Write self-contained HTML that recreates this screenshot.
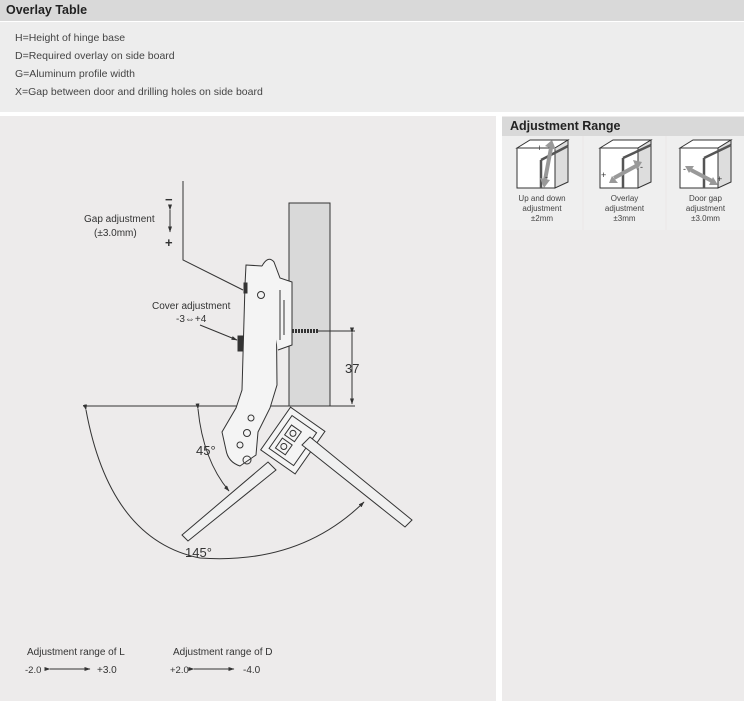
<!DOCTYPE html>
<html><head><meta charset="utf-8"><style>
body{margin:0;width:744px;height:701px;background:#fff;font-family:"Liberation Sans",sans-serif;position:relative;overflow:hidden}
.hdr{position:absolute;left:0;top:0;width:744px;height:21px;background:#d9d9d9;font-size:12.5px;font-weight:bold;color:#222;line-height:21px;padding-left:6px;box-sizing:border-box}
.top{position:absolute;left:0;top:22px;width:744px;height:90px;background:#ededed;font-size:10.5px;color:#444}
.top div{position:absolute;left:15px}
.lp{position:absolute;left:0;top:116px;width:496px;height:585px;background:#edebeb}
.rp{position:absolute;left:502px;top:116px;width:242px;height:585px;background:#edebeb}
.rh{position:absolute;left:0;top:1px;width:242px;height:19px;background:#d9d9d9;font-size:12.5px;font-weight:bold;color:#222;line-height:19px;padding-left:8px;box-sizing:border-box}
.cell{position:absolute;top:20px;height:94px;background:#efefef;font-size:8px;color:#444;text-align:center;line-height:10px}
.cell .t{position:absolute;left:0;right:0;top:58px}
</style></head><body>
<div class="hdr">Overlay Table</div>
<div class="top">
<div style="top:10px">H=Height of hinge base</div>
<div style="top:28px">D=Required overlay on side board</div>
<div style="top:46px">G=Aluminum profile width</div>
<div style="top:64px">X=Gap between door and drilling holes on side board</div>
</div>
<div class="lp"></div>
<div class="rp"><div class="rh">Adjustment Range</div>
<div class="cell" style="left:0;width:80px"><div class="t">Up and down<br>adjustment<br>±2mm</div></div>
<div class="cell" style="left:82px;width:81px"><div class="t">Overlay<br>adjustment<br>±3mm</div></div>
<div class="cell" style="left:165px;width:77px"><div class="t">Door gap<br>adjustment<br>±3.0mm</div></div>
</div>
<svg width="744" height="701" style="position:absolute;left:0;top:0" font-family="Liberation Sans, sans-serif">
<defs><marker id="a" markerWidth="6" markerHeight="4" refX="5.5" refY="2" orient="auto"><path d="M0,0 L6,2 L0,4z" fill="#333"/></marker></defs>
<g fill="none" stroke="#333" stroke-width="1">
<g fill="#fff">
<path d="M517,148 L530,140 L568,140 L555,148Z"/><path d="M517,148 L555,148 L555,188 L517,188Z"/><path d="M555,148 L568,140 L568,182 L555,188Z" fill="#ddd"/>
<path d="M600,148 L613,140 L651,140 L638,148Z"/><path d="M600,148 L638,148 L638,188 L600,188Z"/><path d="M638,148 L651,140 L651,182 L638,188Z" fill="#ddd"/>
<path d="M680,148 L693,140 L731,140 L718,148Z"/><path d="M680,148 L718,148 L718,188 L680,188Z"/><path d="M718,148 L731,140 L731,182 L718,188Z" fill="#ddd"/>
</g>
<path d="M541,160 L568,146 M541,160 L541,188 M623,158 L651,145 M623,158 L623,188 M704,158 L731,145 M704,158 L704,188" stroke="#555" stroke-width="2.5"/>
</g>
<g stroke="#999" stroke-width="4" fill="none">
<path d="M551,148 L545,180"/><path d="M614,178 L636,166"/><path d="M691,170 L712,181"/>
</g>
<g fill="#999"><path d="M545,146 L556,150 L552,140Z"/><path d="M540,178 L550,180 L544,188Z"/>
<path d="M609,183 L618,183 L612,176Z"/><path d="M642,162 L633,160 L637,170Z"/><path d="M685,166 L694,166 L689,173Z"/><path d="M718,185 L713,177 L709,185Z"/></g>
<g font-size="9" fill="#333"><text x="537" y="151">+</text><text x="545" y="180">-</text><text x="601" y="178">+</text><text x="640" y="170">-</text><text x="683" y="172">-</text><text x="717" y="182">+</text></g>

<g fill="none" stroke="#333" stroke-width="1">
<rect x="289" y="203" width="41" height="203" fill="#d9d9d9"/>
<path d="M83,406 H355"/>
<path d="M318,331 H355"/>
<path d="M352,333 V404" marker-start="url(#a)" marker-end="url(#a)"/>
<path d="M183,181 V260 L243,290"/>
<path d="M200,325 L237,340" marker-end="url(#a)"/>
<path d="M246,265 L262,266 Q272,272 276,282 L277,385 L270,408 L258,432 L256,455 L240,466 Q228,462 226,450 L222,432 L236,408 L242,390 L245,285Z" fill="#f4f4f4"/>
<path d="M262,266 Q268,255 274,262 L280,278 L292,282 L292,345 L278,350" fill="#f4f4f4"/>
<path d="M280,290 V340 M284,300 V335"/>
<rect x="238" y="336" width="5" height="15" fill="#333"/>
<rect x="244" y="283" width="3" height="10" fill="#333"/>
<path d="M292,331 H318" stroke-width="4" stroke-dasharray="2,1"/>
<circle cx="261" cy="295" r="3.5"/>
<circle cx="251" cy="418" r="3"/><circle cx="247" cy="433" r="3.5"/><circle cx="240" cy="445" r="3"/><circle cx="247" cy="460" r="4"/>
<g transform="rotate(35 292 440)" fill="#f4f4f4">
<rect x="272" y="414" width="42" height="52"/>
<rect x="278" y="420" width="30" height="40"/>
<rect x="283" y="428" width="12" height="12"/><rect x="283" y="444" width="12" height="12"/>
<circle cx="289" cy="434" r="3"/><circle cx="289" cy="450" r="3"/>
</g>
<path d="M182,535 L268,462 L276,470 L188,541Z" fill="#f0f0f0"/>
<path d="M310,437 L412,520 L405,527 L302,445Z" fill="#f0f0f0"/>
<path d="M198,409 Q203,460 229,491" marker-start="url(#a)" marker-end="url(#a)"/>
<path d="M86,410 Q110,540 200,558 Q300,565 364,502" marker-start="url(#a)" marker-end="url(#a)"/>
<path d="M170,210 V232" marker-start="url(#a)" marker-end="url(#a)"/>
<path d="M50,669 H90" marker-start="url(#a)" marker-end="url(#a)"/>
<path d="M194,669 H234" marker-start="url(#a)" marker-end="url(#a)"/>
</g>
<g fill="#333" font-size="10">
<text x="84" y="222">Gap adjustment</text><text x="94" y="236">(±3.0mm)</text>
<text x="165" y="204" font-weight="bold" font-size="13">−</text><text x="165" y="247" font-weight="bold" font-size="13">+</text>
<text x="152" y="309">Cover adjustment</text><text x="176" y="322">-3⇔+4</text>
<text x="196" y="455" font-size="13">45°</text><text x="185" y="557" font-size="13">145°</text>
<text x="345" y="373" font-size="13">37</text>
<text x="27" y="655">Adjustment range of L</text><text x="173" y="655">Adjustment range of D</text>
<text x="25" y="673" font-size="9.5">-2.0</text><text x="97" y="673">+3.0</text>
<text x="170" y="673" font-size="9.5">+2.0</text><text x="243" y="673">-4.0</text>
</g>
</svg>
</body></html>
